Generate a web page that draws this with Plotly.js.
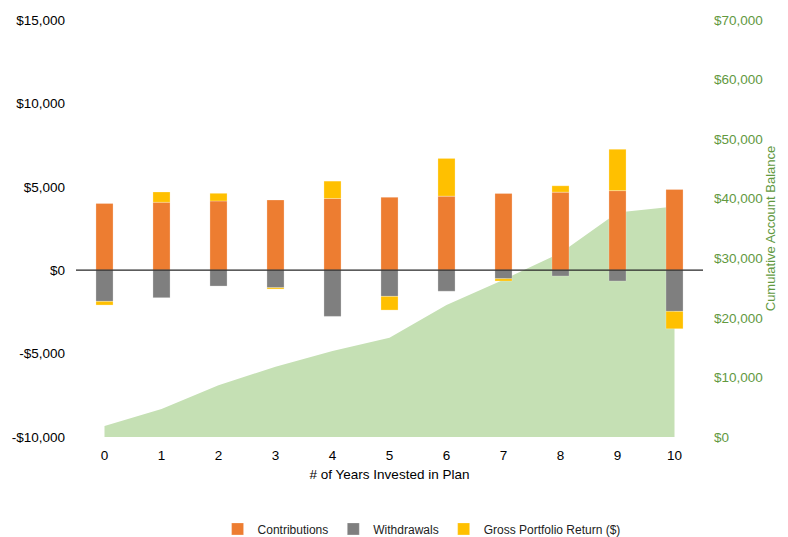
<!DOCTYPE html>
<html>
<head>
<meta charset="utf-8">
<script src="https://cdn.plot.ly/plotly-3.0.1.min.js"></script>
<style>html,body{margin:0;padding:0;background:#fff;}#chart{width:788px;height:537px;}</style>
</head>
<body>
<div id="chart"></div>
<script>
const years = [0, 1, 2, 3, 4, 5, 6, 7, 8, 9, 10];
const contributions = [4000, 4070, 4150, 4210, 4300, 4370, 4440, 4600, 4680, 4770, 4840];
const withdrawals = [-1870, -1650, -950, -1050, -2770, -1570, -1260, -510, -350, -650, -2470];
const grossReturn = [-220, 620, 460, -80, 1040, -820, 2260, -140, 380, 2480, -1040];
const balance = [1850, 4700, 8700, 11800, 14450, 16650, 22150, 26400, 30900, 37700, 38700];

const leftTickVals = [-10000, -5000, 0, 5000, 10000, 15000];
const leftTickText = ['-$10,000', '-$5,000', '$0', '$5,000', '$10,000', '$15,000'];
const rightTickVals = [0, 10000, 20000, 30000, 40000, 50000, 60000, 70000];
const rightTickText = ['$0', '$10,000', '$20,000', '$30,000', '$40,000', '$50,000', '$60,000', '$70,000'];

const FONT = 'Liberation Sans, Arial, Helvetica, sans-serif';
const GREEN = '#62993f';

const traces = [
  {
    type: 'scatter', mode: 'none', x: years, y: balance,
    fill: 'tozeroy', fillcolor: '#c5e0b4', line: {width: 0},
    xaxis: 'x', yaxis: 'y', showlegend: false, hoverinfo: 'skip'
  },
  {
    type: 'bar', name: 'Contributions', x: years, y: contributions,
    marker: {color: '#ed7d31', line: {color: 'rgba(255,255,255,0.5)', width: 0.5}},
    width: 0.3, xaxis: 'x', yaxis: 'y2'
  },
  {
    type: 'bar', name: 'Withdrawals', x: years, y: withdrawals,
    marker: {color: '#7f7f7f', line: {color: 'rgba(255,255,255,0.5)', width: 0.5}},
    width: 0.3, xaxis: 'x', yaxis: 'y2'
  },
  {
    type: 'bar', name: 'Gross Portfolio Return ($)', x: years, y: grossReturn,
    marker: {color: '#ffc000', line: {color: 'rgba(255,255,255,0.5)', width: 0.5}},
    width: 0.3, xaxis: 'x', yaxis: 'y2'
  }
];

const layout = {
  width: 788, height: 537,
  margin: {l: 76, r: 85, t: 20, b: 100, pad: 0},
  paper_bgcolor: '#ffffff', plot_bgcolor: 'rgba(0,0,0,0)',
  font: {family: FONT, size: 12, color: '#000'},
  barmode: 'relative',
  showlegend: true,
  legend: {
    orientation: 'h', xref: 'container', x: 0.535, xanchor: 'center',
    yref: 'container', y: 0.015, yanchor: 'middle',
    font: {family: FONT, size: 12, color: '#222'}, itemwidth: 30, traceorder: 'normal'
  },
  xaxis: {
    range: [-0.5, 10.5], tickvals: years, ticktext: years.map(String),
    showgrid: false, zeroline: false, showline: false, ticks: '',
    ticklabelstandoff: 8,
    tickfont: {family: FONT, size: 13.5, color: '#000'},
    title: {text: '# of Years Invested in Plan', font: {family: FONT, size: 13.5, color: '#000'}, standoff: 8}
  },
  yaxis: {
    side: 'right', range: [0, 70000], tickvals: rightTickVals, ticktext: rightTickText,
    showgrid: false, zeroline: false, showline: false, ticks: '',
    ticklabelstandoff: 10,
    tickfont: {family: FONT, size: 13.5, color: GREEN},
    title: {text: 'Cumulative Account Balance', font: {family: FONT, size: 13, color: GREEN}, standoff: 3}
  },
  yaxis2: {
    side: 'left', overlaying: 'y', anchor: 'x', range: [-10000, 15000],
    tickvals: leftTickVals, ticktext: leftTickText,
    showgrid: false, zeroline: false, showline: false, ticks: '',
    ticklabelstandoff: 10,
    tickfont: {family: FONT, size: 13.5, color: '#000'}
  },
  shapes: [
    {type: 'line', xref: 'paper', x0: 0, x1: 1, yref: 'y2', y0: 0, y1: 0,
     line: {color: '#262626', width: 1.3}, layer: 'above'}
  ]
};

Plotly.newPlot('chart', traces, layout, {displayModeBar: false, staticPlot: true});
</script>
</body>
</html>
